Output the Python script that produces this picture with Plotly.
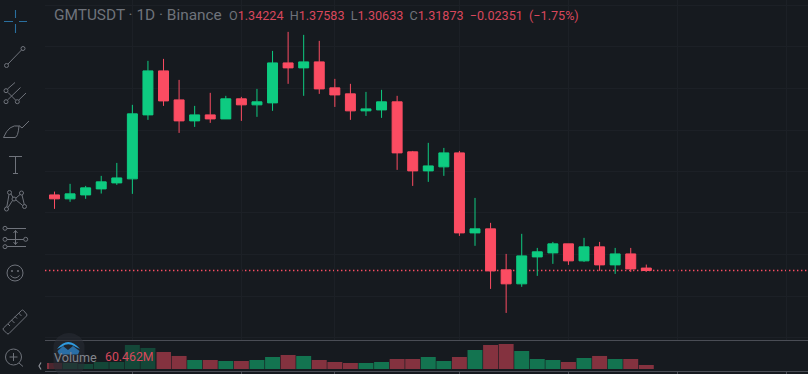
import base64
import plotly.graph_objects as go

dates = list(range(39))
opens = [2.049,2.011,2.049,2.107,2.165,2.204,2.822,3.247,2.967,2.764,2.822,2.783,2.977,2.919,2.938,3.324,3.276,3.334,3.083,3.025,2.861,2.870,2.948,2.465,2.281,2.320,2.455,1.682,1.721,1.325,1.190,1.450,1.489,1.576,1.412,1.547,1.373,1.479,1.34224]
highs = [2.081,2.156,2.136,2.233,2.358,2.919,3.344,3.363,3.160,2.909,3.035,3.006,2.996,3.073,3.440,3.624,3.595,3.537,3.170,3.122,3.044,3.064,3.006,2.474,2.552,2.503,2.474,2.020,1.779,1.479,1.673,1.537,1.595,1.576,1.634,1.595,1.537,1.537,1.37583]
lows = [1.914,1.982,2.011,2.062,2.146,2.059,2.774,2.909,2.648,2.706,2.745,2.783,2.764,2.803,2.861,3.122,3.006,3.025,2.899,2.774,2.812,2.793,2.291,2.136,2.175,2.233,1.653,1.557,1.141,0.909,1.161,1.267,1.383,1.373,1.402,1.315,1.286,1.305,1.30633]
closes = [2.011,2.059,2.117,2.175,2.213,2.832,3.247,2.957,2.764,2.822,2.783,2.977,2.919,2.948,3.324,3.276,3.334,3.073,3.015,2.861,2.880,2.948,2.455,2.281,2.329,2.455,1.682,1.721,1.315,1.190,1.460,1.499,1.576,1.412,1.547,1.373,1.479,1.334,1.31873]
volumes_m = [91,91,76,106,106,363,318,257,197,136,136,121,121,136,181,212,197,136,106,91,91,106,151,151,181,121,181,287,363,378,272,151,136,106,166,197,151,151,60.462]
x_ticks = [5,12,18,26,33,40,47]
price_grid = [3.880,3.479,3.073,2.670,2.274,1.875,1.475,1.067,0.671]
last_price = 1.31873

BG = "#161a1f"
GRID = "#1c2026"
UP = "#0ecb81"
DOWN = "#fb4c62"
UP_VOL = "#137450"
DOWN_VOL = "#84323f"
GREY = "#6f737b"
AXIS = "#4a4d55"
W, H = 808, 374

s = GREY
icons = f'''<svg xmlns="http://www.w3.org/2000/svg" width="{W}" height="{H}" viewBox="0 0 {W} {H}">
<rect x="49" y="341" width="108" height="29" fill="{BG}" fill-opacity="0.5"/>
<path d="M53.5 345 A16 16 0 0 1 84.5 345 L84.5 366 A16 16 0 0 1 53.5 366 Z" fill="#2a2e34" fill-opacity="0.55"/>
<path d="M57 349 Q68 335 80 349 L75 346.5 Q68 342 62 346.5 Z" fill="#2f9be0"/>
<path d="M57.5 351 L63 346 L68 350 L73 346 L79.5 351 L78 354.5 L59 354.5 Z" fill="#2a6ea6"/>
<g fill="none" stroke="#2a6f9e" stroke-width="1.1"><path d="M4 21.5H13M19 21.5H27M15.5 10V18M15.5 24V33"/></g>
<g fill="none" stroke="{s}" stroke-width="1">
<circle cx="6.5" cy="65.5" r="2"/><circle cx="23" cy="48.5" r="2"/><path d="M8 64L21.5 50"/>
<circle cx="6" cy="90.7" r="2"/><circle cx="6" cy="101.7" r="2"/><circle cx="17.3" cy="101.7" r="2"/>
<path d="M7.5 89L15 82.5M7.5 100L20.5 87.5M18.8 100L26 93M8 92.5L15.5 100"/>
<path d="M3.5 137.5H15Q18 137 19 126Q9 124 3.5 137.5ZM19 125.5L22 128L29 121"/>
<path d="M9 156.5H22M15.5 156.5V173.5M13 173.5H18"/>
<circle cx="9.5" cy="192.5" r="2"/><circle cx="21.5" cy="193" r="2"/><circle cx="6.5" cy="209" r="2"/><circle cx="24.5" cy="206.5" r="2"/><circle cx="14" cy="199" r="2"/>
<path d="M9 194.5L6.8 207M22 195L24.3 204.5M11 194L13 197.5M16 198L20 194.5M12.5 200.5L8 207.5M16 200L22.7 205.5"/>
<circle cx="5" cy="228.3" r="2"/><circle cx="5" cy="239.3" r="2"/><circle cx="25.7" cy="239.3" r="2"/><circle cx="5" cy="246.7" r="2"/>
<path d="M7 228.5H26M7 239.5H23.7M7 246.5H26M15.5 230.5V244.5M13.5 233L15.5 230.5L17.5 233M13.5 242L15.5 244.5L17.5 242"/>
<circle cx="15" cy="273" r="8"/><path d="M10.5 275.5Q15 280.5 19.5 275.5"/>
<path d="M3.5 328L21.5 310.5Q22.5 309.5 23.5 310.5L26.5 314Q27.5 315 26.5 316L9 333.5Q8 334.5 7 333.5L3.5 330Q2.5 329 3.5 328Z"/>
<path d="M8 324L10 326M11.5 320L14.5 323M15 316.5L17 318.5M18.5 313L21.5 316"/>
<circle cx="13.5" cy="357" r="8"/><path d="M9.5 357H17.5M13.5 353V361M19 363L23 366.5"/>
<path d="M41 362.5L39 366L41 369.5" stroke="#8b8e95" stroke-width="1.2"/>
</g>
<g fill="{s}"><circle cx="12" cy="271" r="1"/><circle cx="18" cy="271" r="1"/></g>
</svg>'''
icon_uri = "data:image/svg+xml;base64," + base64.b64encode(icons.encode()).decode()

vol_colors = [UP_VOL if c > o else DOWN_VOL for o, c in zip(opens, closes)]

fig = go.Figure()
fig.add_trace(go.Bar(x=dates, y=volumes_m, marker=dict(color=vol_colors, line_width=0),
                     xaxis="x", yaxis="y2", showlegend=False))
fig.add_trace(go.Candlestick(x=dates, open=opens, high=highs, low=lows, close=closes,
                             whiskerwidth=0, xaxis="x2", yaxis="y", showlegend=False,
                             increasing=dict(line=dict(color=UP, width=1), fillcolor=UP),
                             decreasing=dict(line=dict(color=DOWN, width=1), fillcolor=DOWN)))

xr = [(45 - 54.5) / 15.574, (808 - 54.5) / 15.574]
fn = "Roboto, sans-serif"
R = "#d8475c"
G = "#6f737b"
def sp(t):
    return f'<span style="color:{R}">{t}</span>'
ohlc = ("O" + sp(f"{opens[-1]:.5f}") + "  H" + sp(f"{highs[-1]:.5f}") + "  L" + sp(f"{lows[-1]:.5f}")
        + "  C" + sp(f"{closes[-1]:.5f}") + "  " + sp("\u22120.02351  (\u22121.75%)"))

def ann(text, x, y, size, color):
    return dict(text=text, x=x / W, y=1 - y / H, xref="paper", yref="paper", xanchor="left", yanchor="middle",
                showarrow=False, align="left", font=dict(family=fn, size=size, color=color),
                borderpad=0, borderwidth=0)

top = 3.9318
fig.update_layout(
    width=W, height=H, autosize=False,
    margin=dict(l=0, r=0, t=0, b=0, pad=0),
    paper_bgcolor=BG, plot_bgcolor=BG,
    bargap=0.04, boxgap=0.2, boxgroupgap=0.2, showlegend=False, hovermode=False,
    xaxis=dict(domain=[45 / W, 1], range=xr, anchor="y2", showgrid=False, zeroline=False,
               tickmode="array", tickvals=x_ticks, ticktext=["" for _ in x_ticks],
               ticks="outside", ticklen=3, tickcolor=AXIS, showline=True, linecolor=AXIS, linewidth=1,
               rangeslider=dict(visible=False)),
    xaxis2=dict(domain=[45 / W, 1], range=xr, anchor="y", showgrid=True, gridcolor=GRID, gridwidth=1,
                zeroline=False, tickmode="array", tickvals=x_ticks, showticklabels=False, ticks="",
                showline=True, linecolor=AXIS, linewidth=1, rangeslider=dict(visible=False)),
    yaxis=dict(domain=[(H - 340) / H, 1], range=[top - 0.00966 * 340, top], showgrid=True, gridcolor=GRID,
               tickmode="array", tickvals=price_grid, showticklabels=False, ticks="", zeroline=False, showline=False),
    yaxis2=dict(domain=[3 / H, (H - 340) / H], range=[-30, 438], showgrid=False, showticklabels=False, ticks="",
                zeroline=False, showline=False),
    shapes=[dict(type="line", xref="paper", yref="y", x0=45 / W, x1=1, y0=last_price, y1=last_price,
                 line=dict(color=DOWN, width=1.4, dash="1.4px,2.6px"), layer="below")],
    images=[dict(source=icon_uri, xref="paper", yref="paper", x=0, y=1, sizex=1, sizey=1,
                 sizing="stretch", xanchor="left", yanchor="top", layer="above")],
    annotations=[
        ann("GMTUSDT \u00b7 1D \u00b7 Binance", 54, 15, 15.4, G),
        ann(ohlc, 229, 15, 12.6, G),
        ann("Volume", 54, 357, 12.6, "#83868d"),
        ann(sp(f"{volumes_m[-1]:.3f}M"), 105, 357, 12.3, R),
    ],
)
fig.write_html("out.html", config=dict(displayModeBar=False),
               post_script="document.documentElement.style.background='#161a1f';document.body.style.margin='0';document.body.style.overflow='hidden';")
